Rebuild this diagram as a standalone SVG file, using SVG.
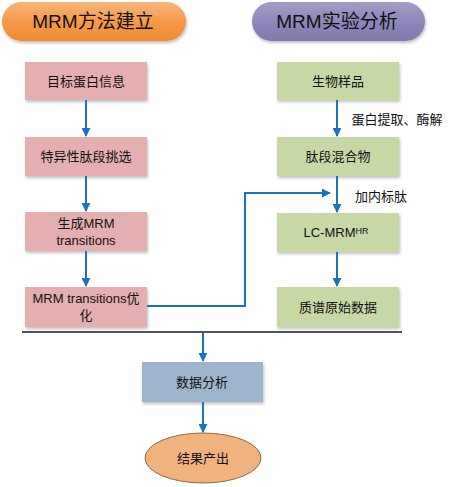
<svg xmlns="http://www.w3.org/2000/svg" width="454" height="487" viewBox="0 0 454 487">
<defs>
<linearGradient id="gOr" x1="0" y1="0" x2="0" y2="1">
<stop offset="0" stop-color="#F9B57A"/><stop offset="0.5" stop-color="#F6994A"/><stop offset="1" stop-color="#F08A30"/>
</linearGradient>
<linearGradient id="gPu" x1="0" y1="0" x2="0" y2="1">
<stop offset="0" stop-color="#A39DC8"/><stop offset="0.5" stop-color="#8E87B9"/><stop offset="1" stop-color="#8079AE"/>
</linearGradient>
<filter id="sh" x="-10%" y="-20%" width="120%" height="150%">
<feDropShadow dx="1" dy="2" stdDeviation="1.5" flood-color="#000" flood-opacity="0.25"/>
</filter>
<marker id="ah" viewBox="0 0 10 10" refX="9" refY="5" markerWidth="4.5" markerHeight="4.5" orient="auto" markerUnits="strokeWidth">
<path d="M0,0 L10,5 L0,10 Z" fill="#1C72C0"/>
</marker>
</defs>
<style>
text{font-family:"Liberation Sans","Noto Sans CJK SC",sans-serif;fill:#111;text-anchor:middle}
.t{font-size:13px}
.h{font-size:19px}
.pk{fill:#E4AFB0}
.gr{fill:#C8D8A5}
.bl{fill:#9CB4CC}
.c{stroke:#1C72C0;stroke-width:2;fill:none;marker-end:url(#ah)}
</style>
<rect width="454" height="487" fill="#fff"/>
<g id="hdr-left"><rect x="2" y="2" width="184" height="39" rx="19.5" fill="url(#gOr)" filter="url(#sh)"/><text class="h" x="93" y="28">MRM方法建立</text></g>
<g id="hdr-right"><rect x="252" y="2" width="173" height="39" rx="19.5" fill="url(#gPu)" filter="url(#sh)"/><text class="h" x="337" y="28">MRM实验分析</text></g>
<g id="n1"><rect class="pk" x="25" y="62" width="122" height="38" filter="url(#sh)"/><text class="t" x="86" y="86">目标蛋白信息</text></g>
<g id="n2"><rect class="pk" x="25" y="137" width="122" height="39" filter="url(#sh)"/><text class="t" x="86" y="161">特异性肽段挑选</text></g>
<g id="n3"><rect class="pk" x="25" y="212" width="122" height="39" filter="url(#sh)"/><text class="t" x="86" y="228">生成MRM</text><text class="t" x="86" y="245">transitions</text></g>
<g id="n4"><rect class="pk" x="25" y="287" width="122" height="40" filter="url(#sh)"/><text class="t" x="86" y="303">MRM transitions优</text><text class="t" x="86" y="320">化</text></g>
<g id="m1"><rect class="gr" x="277" y="62" width="122" height="38" filter="url(#sh)"/><text class="t" x="338" y="86">生物样品</text></g>
<g id="m2"><rect class="gr" x="277" y="137" width="122" height="39" filter="url(#sh)"/><text class="t" x="338" y="161">肽段混合物</text></g>
<g id="m3"><rect class="gr" x="277" y="213" width="122" height="39" filter="url(#sh)"/><text class="t" x="336" y="237">LC-MRM<tspan font-size="9" dy="-3">HR</tspan></text></g>
<g id="m4"><rect class="gr" x="277" y="287" width="122" height="40" filter="url(#sh)"/><text class="t" x="338" y="312">质谱原始数据</text></g>
<g id="d1"><rect class="bl" x="142" y="362" width="121" height="40" filter="url(#sh)"/><text class="t" x="202" y="387">数据分析</text></g>
<g id="e1"><ellipse cx="203" cy="458" rx="58" ry="25" fill="#F0B27E" stroke="#8A6A4A" stroke-width="1"/><text class="t" x="203" y="463">结果产出</text></g>
<line x1="22" y1="332" x2="402" y2="332" stroke="#555" stroke-width="2"/>
<g id="connectors">
<line class="c" x1="86" y1="100" x2="86" y2="136"/>
<line class="c" x1="86" y1="176" x2="86" y2="211"/>
<line class="c" x1="86" y1="251" x2="86" y2="286"/>
<line class="c" x1="337" y1="100" x2="337" y2="136"/>
<line class="c" x1="337" y1="176" x2="337" y2="212"/>
<line class="c" x1="337" y1="252" x2="337" y2="286"/>
<polyline class="c" points="147,306 245,306 245,193 330,193"/>
<line class="c" x1="203" y1="333" x2="203" y2="361"/>
<line class="c" x1="203" y1="402" x2="203" y2="432"/>
</g>
<g id="labels">
<text class="t" x="397" y="124">蛋白提取、酶解</text>
<text class="t" x="381" y="201">加内标肽</text>
</g>
</svg>
